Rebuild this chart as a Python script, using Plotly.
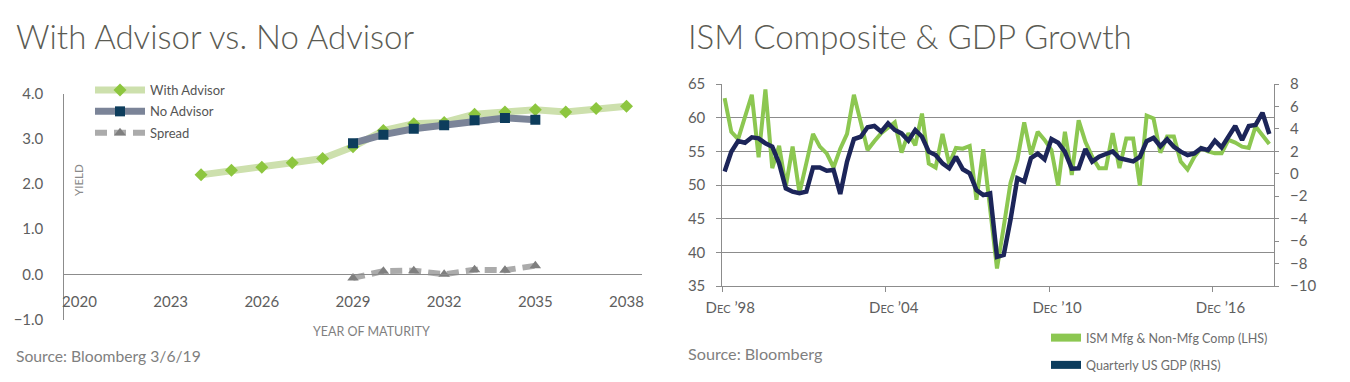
import plotly.graph_objects as go
import pandas as pd

W, H = 1350, 382
OFF = 8  # the page body adds an 8px margin; compensate so pixel targets land where intended

def fx(p):
    return (p - OFF) / W

def fy(p):
    return (H - (p - OFF)) / H

# ---------------- Left chart data ----------------
maturity_years = list(range(2024, 2039))
with_advisor = [2.20, 2.30, 2.37, 2.47, 2.56, 2.82, 3.18, 3.33, 3.36, 3.54, 3.59, 3.64, 3.59, 3.67, 3.72]
no_advisor_years = list(range(2029, 2036))
no_advisor = [2.90, 3.09, 3.22, 3.30, 3.41, 3.46, 3.42]
spread_years = list(range(2029, 2036))
spread = [-0.08, 0.07, 0.08, 0.00, 0.10, 0.09, 0.19]
left_xticks = [2020, 2023, 2026, 2029, 2032, 2035, 2038]
left_yticks = [-1, 0, 1, 2, 3, 4]

# ---------------- Right chart data ----------------
first_quarter = "1999-01-01"
ism_composite = [
    62.9, 57.9, 56.8, 60.1, 63.4, 54.1, 64.2, 52.5, 55.8, 49.8,
    55.7, 48.8, 53.2, 57.6, 55.7, 54.7, 52.6, 55.4, 57.6, 63.4,
    59.3, 55.2, 56.5, 57.7, 58.5, 59.3, 54.8, 57.7, 55.9, 60.6,
    53.2, 52.6, 57.6, 53.1, 55.5, 55.4, 55.8, 47.8, 55.3, 46.5,
    37.6, 43.8, 50.3, 53.7, 59.3, 54.5, 57.9, 56.7, 55.2, 49.9,
    57.9, 51.5, 59.6, 56.4, 54.2, 52.5, 52.5, 57.7, 52.5, 56.9,
    56.9, 49.9, 60.3, 59.9, 54.8, 57.2, 57.2, 53.5, 52.3, 54.2,
    55.5, 55.0, 54.7, 54.7, 56.7, 56.3, 55.7, 55.5, 58.7, 57.4,
    56.1,
]
gdp_growth = [
    0.20, 1.97, 2.92, 2.77, 3.25, 3.16, 2.71, 2.41, 0.93, -1.30,
    -1.60, -1.74, -1.60, 0.57, 0.57, 0.27, 0.34, -1.80, 1.08, 3.10,
    3.30, 4.15, 4.26, 3.75, 4.50, 3.90, 3.60, 2.95, 3.90, 3.30,
    1.97, 1.67, 0.93, 0.49, 1.52, 0.40, 0.04, -1.45, -1.90, -1.74,
    -7.40, -7.24, -4.10, -0.40, -0.70, 1.40, 1.80, 1.29, 3.10, 2.77,
    1.95, 0.45, 0.49, 2.20, 1.08, 1.52, 1.76, 2.00, 1.38, 1.27,
    1.10, 1.50, 2.90, 3.20, 2.45, 3.07, 2.41, 1.97, 1.67, 1.82,
    2.27, 2.10, 2.95, 2.35, 3.30, 4.26, 3.00, 4.26, 4.35, 5.44,
    3.54,
]
right_xtick_dates = ["1998-12-01", "2004-12-01", "2010-12-01", "2016-12-01"]
right_xtick_years = ["98", "04", "10", "16"]
ism_yticks = [35, 40, 45, 50, 55, 60, 65]
gdp_yticks = [-10, -8, -6, -4, -2, 0, 2, 4, 6, 8]

dates = pd.date_range(first_quarter, periods=len(ism_composite), freq="QS")
right_xtick_text = ["D<span style='font-size:11px'>EC</span> \u2019" + y for y in right_xtick_years]

FONT = "Lato, 'Open Sans', sans-serif"
AXIS_GRAY = "#8c8c8c"
TICK_COLOR = "#5e5e5e"

fig = go.Figure()

# Left chart traces
fig.add_trace(go.Scatter(
    x=maturity_years, y=with_advisor, name="With Advisor", mode="lines+markers",
    line=dict(color="#cde0ad", width=7),
    marker=dict(symbol="diamond", color="#8dc63f", size=10),
    xaxis="x", yaxis="y", legend="legend", legendgroup="a",
))
fig.add_trace(go.Scatter(
    x=no_advisor_years, y=no_advisor, name="No Advisor", mode="lines+markers",
    line=dict(color="#7b8498", width=7),
    marker=dict(symbol="square", color="#0d3d5c", size=10),
    xaxis="x", yaxis="y", legend="legend", legendgroup="b",
))
fig.add_trace(go.Scatter(
    x=spread_years, y=spread, name="Spread", mode="lines+markers",
    line=dict(color="#ababab", width=6, dash="12px,7px"),
    marker=dict(symbol="triangle-up", color="#7f7f7f", size=10),
    xaxis="x", yaxis="y", legend="legend", legendgroup="c",
))

# Right chart traces
fig.add_trace(go.Scatter(
    x=dates, y=gdp_growth, name="Quarterly US GDP (RHS)", mode="lines",
    line=dict(color="#1c2559", width=4.5), showlegend=False,
    xaxis="x2", yaxis="y3",
))
fig.add_trace(go.Scatter(
    x=dates, y=ism_composite, name="ISM Mfg & Non-Mfg Comp (LHS)", mode="lines",
    line=dict(color="#8cc751", width=4), showlegend=False,
    xaxis="x2", yaxis="y2",
))
# legend entries for the right chart
fig.add_trace(go.Scatter(
    x=[None], y=[None], name="ISM Mfg & Non-Mfg Comp (LHS)", mode="lines",
    line=dict(color="#8cc751", width=8), xaxis="x2", yaxis="y2",
    legend="legend2", legendgroup="g1",
))
fig.add_trace(go.Scatter(
    x=[None], y=[None], name="Quarterly US GDP (RHS)", mode="lines",
    line=dict(color="#0b3c5d", width=8), xaxis="x2", yaxis="y2",
    legend="legend2", legendgroup="g2",
))

# Left chart geometry (pixel targets)
lx0, lx1 = 64.3, 641.7
ly_top, ly_bot = 93.5, 319.5
left_ydom = [fy(ly_bot), fy(ly_top)]
zero_pos = left_ydom[0] + (0 - (-1)) / 5 * (left_ydom[1] - left_ydom[0])

# Right chart geometry (pixel targets)
rx0, rx1 = 722.3, 1274
ry_top, ry_bot = 84, 286

tickfont = dict(family=FONT, size=15, color=TICK_COLOR)

fig.update_layout(
    template="none",
    width=W, height=H, autosize=False,
    margin=dict(l=0, r=0, t=0, b=0, pad=0),
    paper_bgcolor="white", plot_bgcolor="rgba(0,0,0,0)",
    font=dict(family=FONT, color=TICK_COLOR),
    xaxis=dict(
        domain=[fx(lx0), fx(lx1)], range=[2019.5, 2038.5],
        anchor="free", position=zero_pos, automargin=False,
        tickvals=left_xticks, ticks="", ticklabelstandoff=14,
        showline=True, linecolor=AXIS_GRAY, linewidth=1,
        showgrid=False, zeroline=False, tickfont=tickfont,
    ),
    yaxis=dict(
        domain=left_ydom, range=[-1, 4], anchor="x", automargin=False,
        tickvals=left_yticks, tickformat=".1f", ticks="", ticklabelstandoff=17,
        showline=True, linecolor=AXIS_GRAY, linewidth=1,
        showgrid=False, zeroline=False, tickfont=tickfont,
    ),
    xaxis2=dict(
        domain=[fx(rx0), fx(rx1)], type="date", automargin=False,
        range=["1998-12-01", "2019-03-05"], anchor="y2",
        tickvals=right_xtick_dates, ticktext=right_xtick_text,
        ticks="outside", ticklen=5, tickcolor=AXIS_GRAY, ticklabelstandoff=3,
        ticklabelshift=8,
        showline=True, linecolor=AXIS_GRAY, linewidth=1,
        showgrid=False, zeroline=False, tickfont=tickfont,
    ),
    yaxis2=dict(
        domain=[fy(ry_bot), fy(ry_top)], range=[35, 65], anchor="x2", automargin=False,
        tickvals=ism_yticks, ticks="outside", ticklen=5, tickcolor=AXIS_GRAY,
        ticklabelstandoff=8,
        showline=True, linecolor=AXIS_GRAY, linewidth=1,
        showgrid=True, gridcolor=AXIS_GRAY, gridwidth=1,
        zeroline=False, tickfont=tickfont,
    ),
    yaxis3=dict(
        range=[-10, 8], anchor="x2", overlaying="y2", side="right", automargin=False,
        tickvals=gdp_yticks, ticks="outside", ticklen=4, tickcolor=AXIS_GRAY,
        ticklabelstandoff=8,
        showline=True, linecolor=AXIS_GRAY, linewidth=1,
        showgrid=False, zeroline=False, tickfont=tickfont,
    ),
    legend=dict(
        x=fx(90), y=fy(75), xanchor="left", yanchor="top",
        bgcolor="rgba(0,0,0,0)", font=dict(family=FONT, size=13, color="#555555"),
        tracegroupgap=1.5, itemwidth=50, traceorder="grouped",
    ),
    legend2=dict(
        x=fx(1046), y=fy(323), xanchor="left", yanchor="top",
        bgcolor="rgba(0,0,0,0)", font=dict(family=FONT, size=12.5, color="#6d6d6d"),
        tracegroupgap=8, itemwidth=30, traceorder="grouped",
    ),
)

title_font = dict(family=FONT, size=33, color="#5b5b53", weight=300)
annotations = [
    dict(text="With Advisor vs. No Advisor", x=fx(14), y=fy(36), xref="paper", yref="paper",
         xanchor="left", yanchor="middle", showarrow=False, font=title_font),
    dict(text="ISM Composite & GDP Growth", x=fx(686), y=fy(36), xref="paper", yref="paper",
         xanchor="left", yanchor="middle", showarrow=False, font=title_font),
    dict(text="YIELD", x=fx(78), y=fy(180), xref="paper", yref="paper", textangle=-90,
         xanchor="center", yanchor="middle", showarrow=False,
         font=dict(family=FONT, size=11.5, color="#8a8a8a")),
    dict(text="YEAR OF MATURITY", x=fx(372), y=fy(331), xref="paper", yref="paper",
         xanchor="center", yanchor="middle", showarrow=False,
         font=dict(family=FONT, size=12.5, color="#7f7f7f")),
    dict(text="Source: Bloomberg 3/6/19", x=fx(14), y=fy(356), xref="paper", yref="paper",
         xanchor="left", yanchor="middle", showarrow=False,
         font=dict(family=FONT, size=15.7, color="#7f7f7f")),
    dict(text="Source: Bloomberg", x=fx(686), y=fy(353), xref="paper", yref="paper",
         xanchor="left", yanchor="middle", showarrow=False,
         font=dict(family=FONT, size=16.2, color="#7f7f7f")),
]
fig.update_layout(annotations=annotations)

fig.write_html("out.html")
